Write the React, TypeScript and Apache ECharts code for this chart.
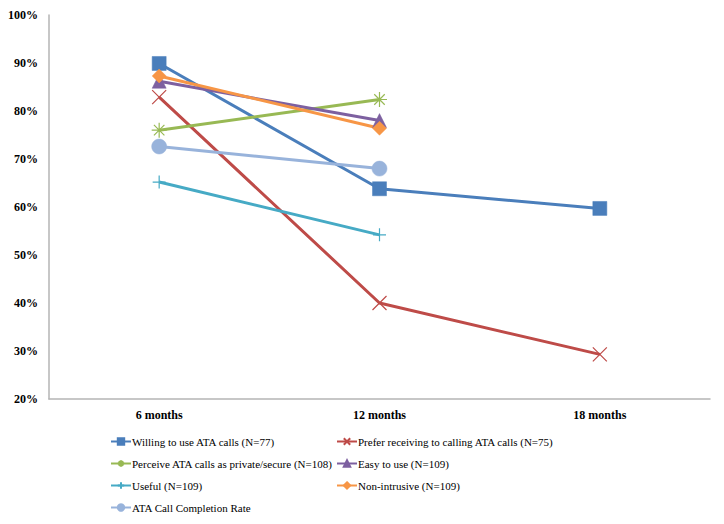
import React, { useEffect, useRef } from "react";
import * as echarts from "echarts";

const categories = ["6 months", "12 months", "18 months"];
const yTicks = [0.2, 0.3, 0.4, 0.5, 0.6, 0.7, 0.8, 0.9, 1.0];

const willing = [0.899, 0.638, 0.597];
const prefer = [0.829, 0.4, 0.293];
const perceive = [0.76, 0.824, null];
const easy = [0.862, 0.78, null];
const useful = [0.652, 0.542, null];
const nonIntrusive = [0.873, 0.764, null];
const completion = [0.726, 0.68, null];

const names = [
  "Willing to use ATA calls (N=77)",
  "Prefer receiving to calling ATA calls (N=75)",
  "Perceive ATA calls as private/secure (N=108)",
  "Easy to use (N=109)",
  "Useful (N=109)",
  "Non-intrusive (N=109)",
  "ATA Call Completion Rate",
];

const X_PATH = "path://M0,0L10,10M10,0L0,10";
const STAR_PATH = "path://M0,5L10,5M5,0L5,10M1.5,1.5L8.5,8.5M8.5,1.5L1.5,8.5";
const PLUS_PATH = "path://M0,5L10,5M5,0L5,10";

export default function App() {
  const ref = useRef<HTMLDivElement>(null);
  useEffect(() => {
    const chart = echarts.init(ref.current!, null, { renderer: "svg" });
    const serif = "Liberation Serif, Times New Roman, serif";
    const defs = [
      { name: names[0], data: willing, color: "#4A7EBB", symbol: "rect", size: 14, open: false },
      { name: names[1], data: prefer, color: "#BE4B48", symbol: X_PATH, size: 14, open: true },
      { name: names[2], data: perceive, color: "#98B954", symbol: STAR_PATH, size: 15, open: true },
      { name: names[3], data: easy, color: "#7D60A0", symbol: "triangle", size: 14, open: false },
      { name: names[4], data: useful, color: "#46AAC5", symbol: PLUS_PATH, size: 13, open: true },
      { name: names[5], data: nonIntrusive, color: "#F79646", symbol: "diamond", size: 14, open: false },
      { name: names[6], data: completion, color: "#98B3DB", symbol: "circle", size: 15, open: false },
    ];
    const series = defs.map((d) => ({
      type: "line",
      name: d.name,
      data: d.data,
      symbol: d.symbol,
      symbolSize: d.size,
      showSymbol: true,
      connectNulls: false,
      lineStyle: { color: d.color, width: 3 },
      itemStyle: d.open
        ? { color: "rgba(0,0,0,0)", borderColor: d.color, borderWidth: 1.2 }
        : { color: d.color, borderColor: d.color, borderWidth: 0.5 },
      emphasis: { disabled: true },
    }));
    const legendPos = [
      [110, 436],
      [336, 436],
      [110, 458],
      [336, 458],
      [110, 480],
      [336, 480],
      [110, 502],
    ];
    const legends = names.map((n, i) => ({
      data: [n],
      left: legendPos[i][0],
      top: legendPos[i][1],
      itemWidth: 20,
      itemHeight: 8,
      itemGap: 0,
      padding: 0,
      textStyle: { fontFamily: serif, fontSize: 11, color: "#000", padding: [0, 0, 0, -4] },
      selectedMode: false,
    }));
    chart.setOption({
      animation: false,
      textStyle: { fontFamily: serif },
      grid: { left: 49, right: 14, top: 15, bottom: 125, containLabel: false },
      legend: legends,
      xAxis: {
        type: "category",
        data: categories,
        boundaryGap: true,
        axisLine: { lineStyle: { color: "#b5b5b5", width: 1.5 } },
        axisTick: { show: false },
        axisLabel: { fontFamily: serif, fontWeight: "bold", fontSize: 12, color: "#000", margin: 10 },
      },
      yAxis: {
        type: "value",
        min: yTicks[0],
        max: yTicks[yTicks.length - 1],
        interval: 0.1,
        splitLine: { show: false },
        axisLine: { show: true, lineStyle: { color: "#b5b5b5", width: 1.5 } },
        axisTick: { show: false },
        axisLabel: {
          fontFamily: serif,
          fontWeight: "bold",
          fontSize: 12,
          color: "#000",
          margin: 11,
          formatter: (v: number) => Math.round(v * 100) + "%",
        },
      },
      series,
    });
    return () => chart.dispose();
  }, []);
  return (
    <div style={{ position: "absolute", left: 0, top: 0 }}>
      <div ref={ref} style={{ width: 724, height: 524 }} />
    </div>
  );
}
